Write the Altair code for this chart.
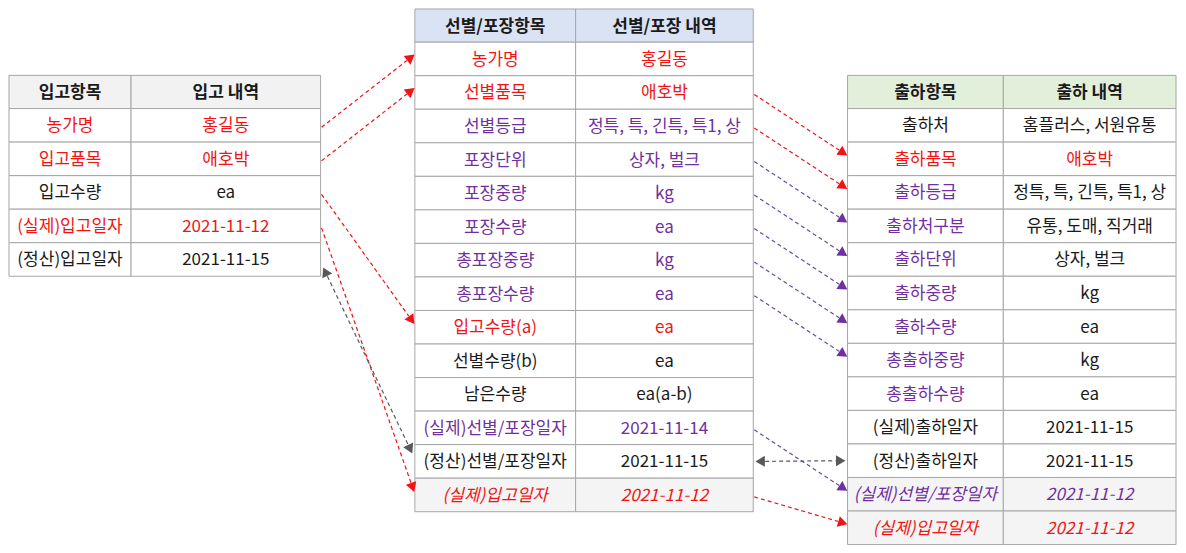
import math
import altair as alt
import pandas as pd

# ---------------- content ----------------
in_header = ["입고항목", "입고 내역"]
in_items = ["농가명", "입고품목", "입고수량", "(실제)입고일자", "(정산)입고일자"]
in_values = ["홍길동", "애호박", "ea", "2021-11-12", "2021-11-15"]
in_kinds = ["입고", "입고", "기본", "입고", "기본"]
in_italic = [False, False, False, False, False]

sel_header = ["선별/포장항목", "선별/포장 내역"]
sel_items = ["농가명", "선별품목", "선별등급", "포장단위", "포장중량", "포장수량",
             "총포장중량", "총포장수량", "입고수량(a)", "선별수량(b)", "남은수량",
             "(실제)선별/포장일자", "(정산)선별/포장일자", "(실제)입고일자"]
sel_values = ["홍길동", "애호박", "정특, 특, 긴특, 특1, 상", "상자, 벌크", "kg", "ea",
              "kg", "ea", "ea", "ea", "ea(a-b)", "2021-11-14", "2021-11-15", "2021-11-12"]
sel_kinds = ["입고", "입고", "선별", "선별", "선별", "선별", "선별", "선별",
             "입고", "기본", "기본", "선별", "기본", "입고"]
sel_italic = [False] * 13 + [True]

out_header = ["출하항목", "출하 내역"]
out_items = ["출하처", "출하품목", "출하등급", "출하처구분", "출하단위", "출하중량",
             "출하수량", "총출하중량", "총출하수량", "(실제)출하일자", "(정산)출하일자",
             "(실제)선별/포장일자", "(실제)입고일자"]
out_values = ["홈플러스, 서원유통", "애호박", "정특, 특, 긴특, 특1, 상", "유통, 도매, 직거래",
              "상자, 벌크", "kg", "ea", "kg", "ea", "2021-11-15", "2021-11-15",
              "2021-11-12", "2021-11-12"]
out_item_kinds = ["기본", "입고", "선별", "선별", "선별", "선별", "선별", "선별", "선별",
                  "기본", "기본", "선별", "입고"]
out_value_kinds = ["기본", "입고", "기본", "기본", "기본", "기본", "기본", "기본", "기본",
                   "기본", "기본", "선별", "입고"]
out_italic = [False] * 11 + [True, True]

# links: (from table, from row, to table, to row, kind, two-way)
links = [
    ("L", 0, "M", 0, "입고", False),
    ("L", 1, "M", 1, "입고", False),
    ("L", 2, "M", 8, "입고", False),
    ("L", 3, "M", 13, "입고", False),
    ("L", 4, "M", 12, "기본", True),
    ("M", 1, "R", 1, "입고", False),
    ("M", 2, "R", 2, "입고", False),
    ("M", 3, "R", 3, "선별", False),
    ("M", 4, "R", 4, "선별", False),
    ("M", 5, "R", 5, "선별", False),
    ("M", 6, "R", 6, "선별", False),
    ("M", 7, "R", 7, "선별", False),
    ("M", 11, "R", 11, "선별", False),
    ("M", 12, "R", 10, "기본", True),
    ("M", 13, "R", 12, "입고", False),
]

# ---------------- layout / style ----------------
FONT = "Noto Sans CJK KR"
W, H = 1170, 537
XD = [6, 1185]
YD = [3, 553]
SX = W / (XD[1] - XD[0])
SY = H / (YD[1] - YD[0])
XS = alt.Scale(domain=XD, range=[0, W])
YS = alt.Scale(domain=YD, range=[0, H])

ROW_H = 34.35
HEAD_H = 34.0
LAYOUT = {"L": ([7, 130, 321], 72), "M": ([416, 578, 757], 4), "R": ([852, 1009, 1183], 72)}

tables = {
    "L": dict(header=in_header, hfill="입고헤더", items=in_items, values=in_values,
              ik=in_kinds, vk=in_kinds, it=in_italic),
    "M": dict(header=sel_header, hfill="선별헤더", items=sel_items, values=sel_values,
              ik=sel_kinds, vk=sel_kinds, it=sel_italic),
    "R": dict(header=out_header, hfill="출하헤더", items=out_items, values=out_values,
              ik=out_item_kinds, vk=out_value_kinds, it=out_italic),
}


def row_mid(t, i):
    return LAYOUT[t][1] + HEAD_H + i * ROW_H + ROW_H / 2


rects, texts = [], []
for t, d in tables.items():
    xs, top = LAYOUT[t]
    for c in range(2):
        rects.append(dict(x=xs[c], x2=xs[c + 1], y=top, y2=top + HEAD_H, fk=d["hfill"]))
        texts.append(dict(x=(xs[c] + xs[c + 1]) / 2, y=top + HEAD_H / 2 + 1,
                          text=d["header"][c], kind="기본", style="bold"))
    for i, (item, val) in enumerate(zip(d["items"], d["values"])):
        y0 = top + HEAD_H + i * ROW_H
        fk = "음영" if d["it"][i] else "일반"
        st = "italic" if d["it"][i] else "normal"
        for c, (txt, k) in enumerate([(item, d["ik"][i]), (val, d["vk"][i])]):
            rects.append(dict(x=xs[c], x2=xs[c + 1], y=y0, y2=y0 + ROW_H, fk=fk))
            texts.append(dict(x=(xs[c] + xs[c + 1]) / 2, y=y0 + ROW_H / 2 + 1,
                              text=txt, kind=k, style=st))

lines, heads = [], []


def head(tipx, tipy, fromx, fromy, kind):
    dx, dy = (tipx - fromx), (tipy - fromy)
    ln = math.hypot(dx, dy)
    ux, uy = dx / ln, dy / ln
    ang = math.degrees(math.atan2(dx * SX, -dy * SY)) % 360
    heads.append(dict(x=tipx - 5.5 * ux, y=tipy - 5.5 * uy, angle=ang, kind=kind))
    return tipx - 9 * ux, tipy - 9 * uy


for (ft, fr, tt, tr, kind, two) in links:
    x1 = LAYOUT[ft][0][2] + 1
    x2 = LAYOUT[tt][0][0] - 1
    y1 = row_mid(ft, fr)
    y2 = row_mid(tt, tr)
    if two:
        if abs(y2 - y1) > 50:
            y1 += 9
            y2 -= 9
        x1 += 2
        x2 -= 2
    else:
        y1 += 2
        y2 -= 4
    ex, ey = head(x2, y2, x1, y1, kind)
    sx, sy = x1, y1
    if two:
        sx, sy = head(x1, y1, x2, y2, kind)
    lines.append(dict(x=sx, y=sy, x2=ex, y2=ey, kind=kind))

rect_df = pd.DataFrame(rects)
text_df = pd.DataFrame(texts)
line_df = pd.DataFrame(lines)
head_df = pd.DataFrame(heads)

fill_scale = alt.Scale(domain=["입고헤더", "선별헤더", "출하헤더", "일반", "음영"],
                       range=["#f2f2f2", "#dae3f3", "#e2efda", "#ffffff", "#f4f4f4"])
text_scale = alt.Scale(domain=["입고", "선별", "기본"],
                       range=["#f01414", "#7030a0", "#1a1a1a"])
line_scale = alt.Scale(domain=["입고", "선별", "기본"],
                       range=["#f01414", "#6a4aa8", "#5a5a5a"])
head_scale = alt.Scale(domain=["입고", "선별", "기본"],
                       range=["#f01414", "#7030a0", "#595959"])

X = lambda f: alt.X(f + ":Q", scale=XS, axis=None)
Y = lambda f: alt.Y(f + ":Q", scale=YS, axis=None)

cells = alt.Chart(rect_df).mark_rect(stroke="#a6a6a6", strokeWidth=1).encode(
    x=X("x"), x2="x2", y=Y("y"), y2="y2",
    fill=alt.Fill("fk:N", scale=fill_scale, legend=None),
)


def text_layer(style):
    kw = dict(font=FONT, fontSize=17, align="center", baseline="middle")
    if style == "bold":
        kw["fontWeight"] = "bold"
    if style == "italic":
        kw["fontStyle"] = "italic"
    return alt.Chart(text_df).transform_filter(
        alt.datum.style == style
    ).mark_text(**kw).encode(
        x=X("x"), y=Y("y"), text="text:N",
        color=alt.Color("kind:N", scale=text_scale, legend=None),
    )


rules = alt.Chart(line_df).mark_rule(strokeDash=[4, 3], strokeWidth=1.2).encode(
    x=X("x"), y=Y("y"), x2="x2", y2="y2",
    color=alt.Color("kind:N", scale=line_scale, legend=None),
)

arrowheads = alt.Chart(head_df).mark_point(
    shape="triangle", filled=True, size=120, opacity=1
).encode(
    x=X("x"), y=Y("y"),
    angle=alt.Angle("angle:Q", scale=None),
    color=alt.Color("kind:N", scale=head_scale, legend=None),
)

chart = alt.layer(
    cells, text_layer("bold"), text_layer("normal"), text_layer("italic"), rules, arrowheads
).resolve_scale(color="independent").properties(
    width=W, height=H, padding=0, background="white"
).configure_view(stroke=None)

chart.save("out.html", embed_options={"renderer": "svg", "actions": False})
